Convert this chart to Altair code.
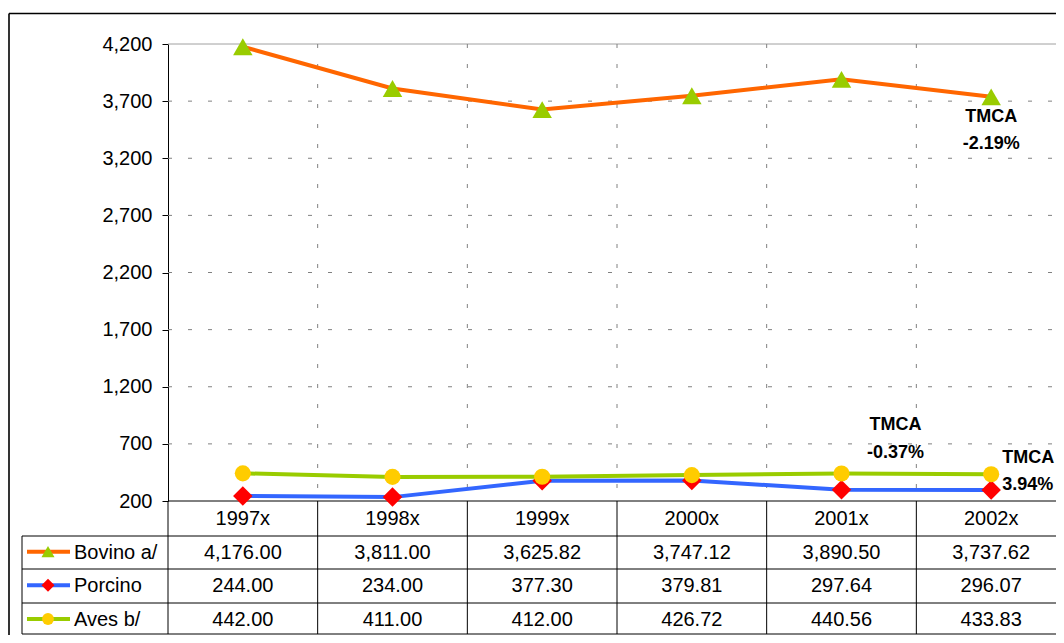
import altair as alt
import pandas as pd

# ---- data ----
years = ["1997x", "1998x", "1999x", "2000x", "2001x", "2002x"]
bovino = [4176.00, 3811.00, 3625.82, 3747.12, 3890.50, 3737.62]
porcino = [244.00, 234.00, 377.30, 379.81, 297.64, 296.07]
aves = [442.00, 411.00, 412.00, 426.72, 440.56, 433.83]
series_names = ["Bovino a/", "Porcino", "Aves b/"]
tmca_labels = ["-2.19%", "3.94%", "-0.37%"]
y_ticks = [200, 700, 1200, 1700, 2200, 2700, 3200, 3700, 4200]

# ---- styles ----
line_colors = ["#FF6600", "#3366FF", "#99CC00"]
marker_colors = ["#99CC00", "#FF0000", "#FFCC00"]
marker_shapes = ["triangle-up", "diamond", "circle"]
marker_sizes = [380, 380, 260]
legend_sizes = [170, 170, 140]
FONT = "Liberation Sans"

X = alt.Scale(domain=[-0.5, 5.5], range=[0, 898])
Y = alt.Scale(domain=[200, 4200], range=[457, 0])
ROW = alt.Scale(domain=[0, 3], range=[474, 575])

all_values = [bovino, porcino, aves]
recs = []
for s, (name, vals) in enumerate(zip(series_names, all_values)):
    for i, (yr, v) in enumerate(zip(years, vals)):
        recs.append(dict(series=name, idx=i, year=yr, value=v, row=s + 1,
                         label=f"{v:,.2f}"))
df = pd.DataFrame(recs)
hdr = pd.DataFrame({"idx": list(range(len(years))), "year": years, "row": 0})
one = pd.DataFrame({"d": [0]})
bounds = pd.DataFrame({"b": [i - 0.5 for i in range(len(years) + 1)]})
grid = pd.DataFrame({"v": y_ticks[1:-1]})

layers = []

# horizontal dashed gridlines
layers.append(alt.Chart(grid).mark_rule(color="#808080", strokeDash=[4, 16], strokeWidth=1).encode(
    y=alt.Y("v:Q", scale=Y, axis=None), x=alt.value(0), x2=alt.value(898)))
# top line of plot area
layers.append(alt.Chart(one).mark_rule(color="#A0A0A0", strokeWidth=1).encode(
    y=alt.value(0), x=alt.value(0), x2=alt.value(898)))
# vertical dashed gridlines
layers.append(alt.Chart(bounds.iloc[1:]).mark_rule(color="#808080", strokeDash=[4, 16], strokeWidth=1).encode(
    x=alt.X("b:Q", scale=X, axis=None), y=alt.value(0), y2=alt.value(457)))
# table vertical lines
layers.append(alt.Chart(bounds).mark_rule(color="#000000", strokeWidth=1).encode(
    x=alt.X("b:Q", scale=X, axis=None), y=alt.value(457), y2=alt.value(590)))


def hline(y, x0, x1, color="#000000", w=1.0):
    return alt.Chart(one).mark_rule(color=color, strokeWidth=w).encode(
        y=alt.value(y), x=alt.value(x0), x2=alt.value(x1))


def vline(x, y0, y1, color="#000000", w=1.0):
    return alt.Chart(one).mark_rule(color=color, strokeWidth=w).encode(
        x=alt.value(x), y=alt.value(y0), y2=alt.value(y1))


layers.append(hline(457, 0, 898))
for yy in [492, 525, 559, 590]:
    layers.append(hline(yy, -146, 898))
layers.append(vline(-146, 492, 590))
# outer frame
layers.append(hline(-30.5, -159, 900, w=1.6))
layers.append(vline(-159, -30.5, 600, w=1.6))

yaxis_main = alt.Axis(values=y_ticks, format=",.0f", title=None, grid=False,
                      labelFont=FONT, labelFontSize=20, labelColor="#000000",
                      tickColor="#000000", tickSize=6, labelPadding=10,
                      domainColor="#000000", domainWidth=1)

# series lines + markers
for s, name in enumerate(series_names):
    sub = df[df.series == name]
    xenc = alt.X("idx:Q", scale=X, axis=None)
    layers.append(alt.Chart(sub).mark_line(color=line_colors[s], strokeWidth=4).encode(
        x=xenc,
        y=alt.Y("value:Q", scale=Y, axis=yaxis_main if s == 0 else None)))
    layers.append(alt.Chart(sub).mark_point(shape=marker_shapes[s], filled=True, color=marker_colors[s],
                                            size=marker_sizes[s], opacity=1, strokeWidth=0).encode(
        x=xenc, y=alt.Y("value:Q", scale=Y, axis=None)))

# table: header years
layers.append(alt.Chart(hdr).mark_text(font=FONT, fontSize=20, color="#000000",
                                       align="center", baseline="middle", dy=1).encode(
    x=alt.X("idx:Q", scale=X, axis=None),
    y=alt.Y("row:Q", scale=ROW, axis=None), text="year:N"))
# table: values
layers.append(alt.Chart(df).mark_text(font=FONT, fontSize=20, color="#000000",
                                      align="center", baseline="middle", dy=1).encode(
    x=alt.X("idx:Q", scale=X, axis=None),
    y=alt.Y("row:Q", scale=ROW, axis=None), text="label:N"))
# table: legend keys and labels
for s, name in enumerate(series_names):
    leg = pd.DataFrame({"series": [name], "row": [s + 1]})
    yrow = alt.Y("row:Q", scale=ROW, axis=None)
    layers.append(alt.Chart(leg).mark_rule(color=line_colors[s], strokeWidth=4).encode(
        y=yrow, x=alt.value(-141), x2=alt.value(-98)))
    layers.append(alt.Chart(leg).mark_point(shape=marker_shapes[s], filled=True, color=marker_colors[s],
                                            size=legend_sizes[s], opacity=1, strokeWidth=0).encode(
        y=yrow, x=alt.value(-120)))
    layers.append(alt.Chart(leg).mark_text(font=FONT, fontSize=20, color="#000000", align="left",
                                           baseline="middle", dy=1).encode(
        y=yrow, x=alt.value(-94), text="series:N"))

# TMCA annotations (anchored at data points)
anchors = [
    (0, 5, bovino[5], "center", 0, 20, 47),
    (1, 5, porcino[5], "left", 11, -32, -5),
    (2, 4, aves[4], "center", 54, -49, -21),
]
for s, i, v, al, dx, dy1, dy2 in anchors:
    a = pd.DataFrame({"idx": [i], "value": [v], "t1": ["TMCA"], "t2": [tmca_labels[s]]})
    xa = alt.X("idx:Q", scale=X, axis=None)
    ya = alt.Y("value:Q", scale=Y, axis=None)
    layers.append(alt.Chart(a).mark_text(font=FONT, fontSize=18, fontWeight="bold", color="#000000",
                                         align=al, baseline="middle", dx=dx, dy=dy1).encode(
        x=xa, y=ya, text="t1:N"))
    layers.append(alt.Chart(a).mark_text(font=FONT, fontSize=18, fontWeight="bold", color="#000000",
                                         align=al, baseline="middle", dx=dx, dy=dy2).encode(
        x=xa, y=ya, text="t2:N"))

chart = alt.layer(*layers).resolve_scale(y="independent").properties(
    width=888, height=591,
    autosize=alt.AutoSizeParams(type="none"),
    padding={"left": 160, "top": 36, "right": 0, "bottom": 0},
    background="white",
).configure_view(stroke=None)

chart.save("out.html", embed_options={"renderer": "svg", "actions": False})
